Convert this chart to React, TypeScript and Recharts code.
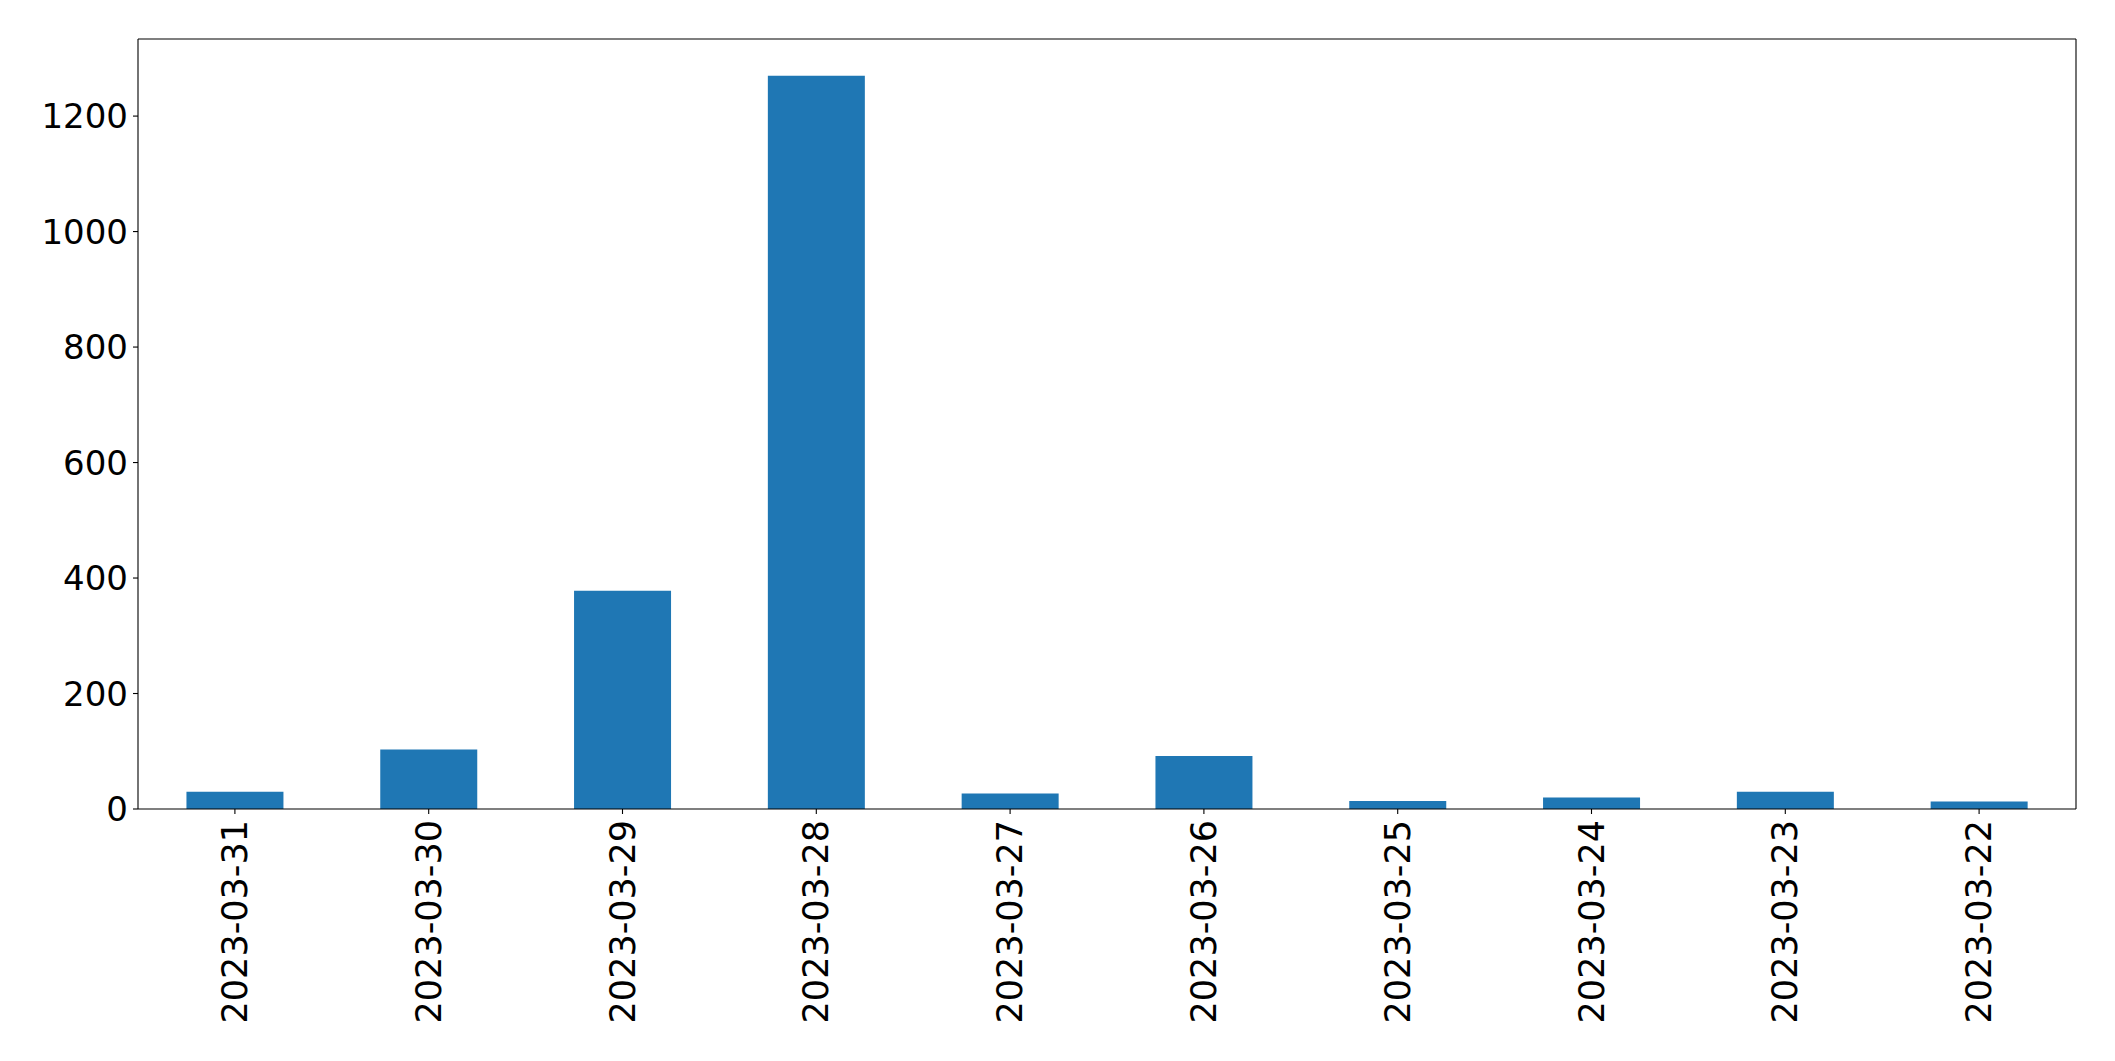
import React from "react";
import { BarChart, Bar, XAxis, YAxis } from "recharts";

const dates = [
  "2023-03-31",
  "2023-03-30",
  "2023-03-29",
  "2023-03-28",
  "2023-03-27",
  "2023-03-26",
  "2023-03-25",
  "2023-03-24",
  "2023-03-23",
  "2023-03-22",
];
const counts = [30, 103, 378, 1270, 27, 92, 14, 20, 30, 13];
const yTicks = [0, 200, 400, 600, 800, 1000, 1200];

const data = dates.map((d, i) => ({ date: d, count: counts[i] }));

const FONT = "DejaVu Sans";
const axisLine = { stroke: "#000", strokeWidth: 1.1 };

// rotated date labels, like matplotlib rotation=90
// eslint-disable-next-line @typescript-eslint/no-explicit-any
const DateTick = (props: any) => {
  const { x, y, payload } = props;
  return (
    <text
      x={x}
      y={y}
      transform={`rotate(-90, ${x}, ${y})`}
      textAnchor="end"
      dominantBaseline="central"
      fontFamily={FONT}
      fontSize={35}
      fill="#000"
    >
      {payload.value}
    </text>
  );
};

const App = () => {
  return (
    <div style={{ position: "absolute", left: 0, top: 0, background: "#fff" }}>
      <BarChart
        width={2115}
        height={1061}
        data={data}
        margin={{ top: 38, right: 38, bottom: 0, left: 38 }}
        barCategoryGap="25%"
      >
        <XAxis
          dataKey="date"
          height={252}
          axisLine={axisLine}
          tickLine={axisLine}
          tickSize={5}
          tickMargin={6}
          interval={0}
          tick={<DateTick />}
        />
        <XAxis
          xAxisId="top"
          dataKey="date"
          orientation="top"
          height={1}
          axisLine={axisLine}
          tick={false}
          tickLine={false}
          tickSize={0}
        />
        <YAxis
          width={100}
          domain={[0, 1333.5]}
          ticks={yTicks}
          allowDataOverflow
          axisLine={axisLine}
          tickLine={axisLine}
          tickSize={5}
          tickMargin={5}
          tick={{ fontSize: 34, fill: "#000", fontFamily: FONT }}
        />
        <YAxis
          yAxisId="right"
          orientation="right"
          width={1}
          domain={[0, 1333.5]}
          axisLine={axisLine}
          tick={false}
          tickLine={false}
          tickSize={0}
        />
        <Bar dataKey="count" fill="#1f77b4" isAnimationActive={false} />
      </BarChart>
    </div>
  );
};

export default App;
